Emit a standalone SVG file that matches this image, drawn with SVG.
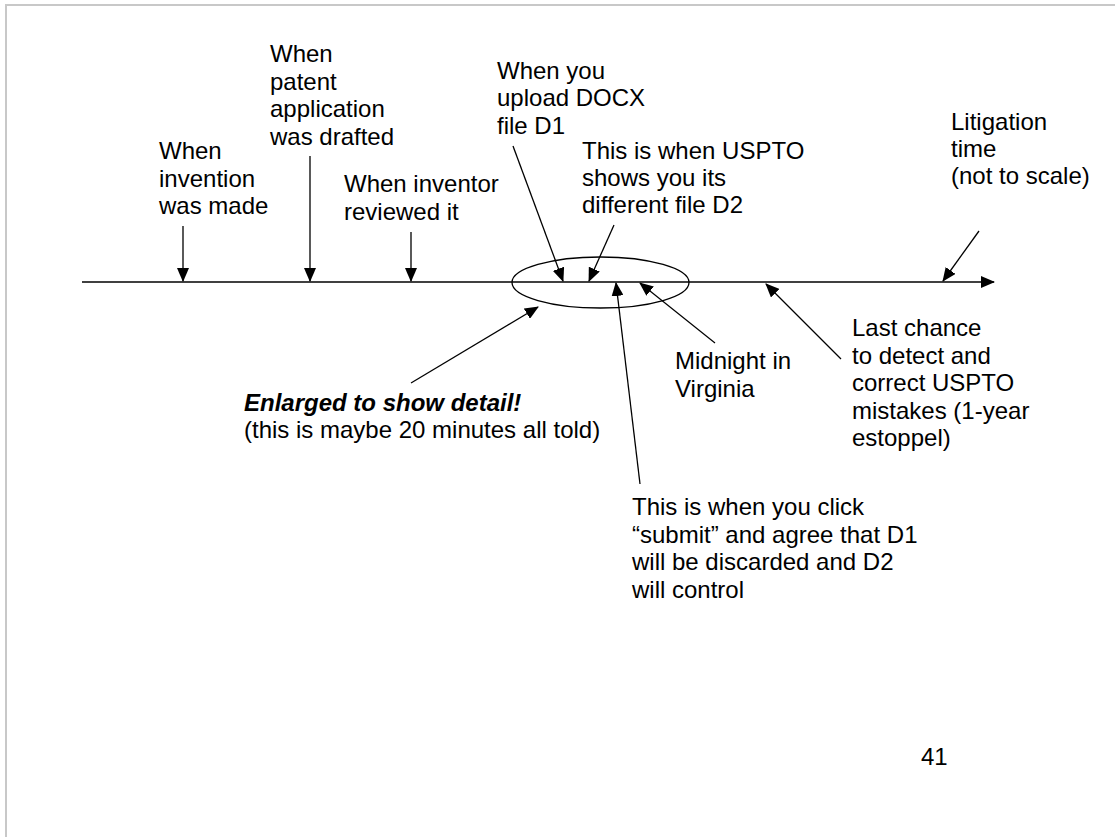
<svg xmlns="http://www.w3.org/2000/svg" width="1115" height="837" viewBox="0 0 1115 837">
<style>
text{font-family:"Liberation Sans",Arial,sans-serif;font-size:24px;fill:#000}
.bi{font-weight:bold;font-style:italic}
.ln{stroke:#000;stroke-width:1.3;fill:none}
</style>
<defs>
<marker id="ah" markerUnits="userSpaceOnUse" markerWidth="14" markerHeight="12" refX="13" refY="6" orient="auto" viewBox="0 0 14 12">
<path d="M0,0 L14,6 L0,12 z" fill="#000"/>
</marker>
</defs>
<rect width="1115" height="837" fill="#fff"/>
<path d="M6,837 V5 H1115" stroke="#c8c8c8" stroke-width="2" fill="none"/>
<g id="timeline">
<line class="ln" x1="82" y1="282" x2="994" y2="282" marker-end="url(#ah)"/>
<ellipse class="ln" cx="600.5" cy="282.5" rx="88.5" ry="25.5"/>
</g>
<g id="connectors">
<line class="ln" x1="183" y1="226" x2="183" y2="281" marker-end="url(#ah)"/>
<line class="ln" x1="310" y1="156" x2="310" y2="281" marker-end="url(#ah)"/>
<line class="ln" x1="411" y1="232" x2="411" y2="281" marker-end="url(#ah)"/>
<line class="ln" x1="513" y1="146" x2="563" y2="281" marker-end="url(#ah)"/>
<line class="ln" x1="614" y1="225" x2="589" y2="281" marker-end="url(#ah)"/>
<line class="ln" x1="979" y1="231" x2="943" y2="281" marker-end="url(#ah)"/>
<line class="ln" x1="640" y1="484" x2="616" y2="283" marker-end="url(#ah)"/>
<line class="ln" x1="715" y1="343" x2="640" y2="283" marker-end="url(#ah)"/>
<line class="ln" x1="841" y1="359" x2="766" y2="284" marker-end="url(#ah)"/>
<line class="ln" x1="411" y1="383" x2="538" y2="307" marker-end="url(#ah)"/>
</g>
<g id="invention-made">
<text x="159" y="159">When</text>
<text x="159" y="187">invention</text>
<text x="159" y="214">was made</text>
</g>
<g id="application-drafted">
<text x="270" y="62">When</text>
<text x="270" y="90">patent</text>
<text x="270" y="117">application</text>
<text x="270" y="145">was drafted</text>
</g>
<g id="inventor-reviewed">
<text x="344" y="192">When inventor</text>
<text x="344" y="220">reviewed it</text>
</g>
<g id="upload-d1">
<text x="497" y="79">When you</text>
<text x="497" y="106">upload DOCX</text>
<text x="497" y="134">file D1</text>
</g>
<g id="uspto-d2">
<text x="582" y="159">This is when USPTO</text>
<text x="582" y="186">shows you its</text>
<text x="582" y="213">different file D2</text>
</g>
<g id="litigation">
<text x="951" y="130">Litigation</text>
<text x="951" y="157">time</text>
<text x="951" y="184">(not to scale)</text>
</g>
<g id="enlarged">
<text x="244" y="411" class="bi">Enlarged to show detail!</text>
<text x="244" y="438">(this is maybe 20 minutes all told)</text>
</g>
<g id="midnight">
<text x="675" y="369">Midnight in</text>
<text x="675" y="397">Virginia</text>
</g>
<g id="last-chance">
<text x="852" y="336">Last chance</text>
<text x="852" y="364">to detect and</text>
<text x="852" y="391">correct USPTO</text>
<text x="852" y="419">mistakes (1-year</text>
<text x="852" y="446">estoppel)</text>
</g>
<g id="submit">
<text x="632" y="515">This is when you click</text>
<text x="632" y="543">“submit” and agree that D1</text>
<text x="632" y="570">will be discarded and D2</text>
<text x="632" y="598">will control</text>
</g>
<g id="page-number">
<text x="921" y="765">41</text>
</g>
</svg>
